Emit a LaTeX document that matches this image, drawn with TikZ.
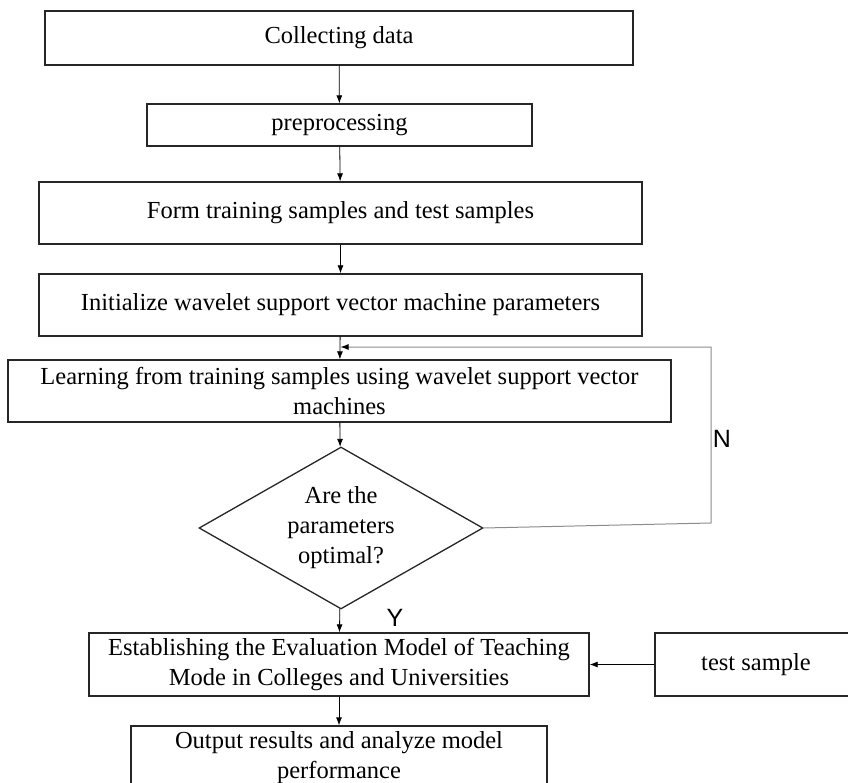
\documentclass[tikz,border=0pt]{standalone}
\usepackage{fontspec}
\setmainfont{Liberation Serif}
\newfontfamily\yesnofont{Liberation Sans}
\usetikzlibrary{shapes.geometric,arrows.meta,positioning}
\tikzstyle{flow}=[
  x=1pt,y=-1pt,>={Latex[length=8pt,width=6pt]},font=\fontsize{24.5}{30}\selectfont
]
\tikzstyle{procbox}=[
  draw=black!85,line width=1.3pt,inner sep=0pt,align=center
]
\tikzstyle{decision}=[
  draw=black!85,line width=1.3pt,diamond,aspect=1.75,inner sep=0pt,
  minimum width=284pt,minimum height=162pt,align=center
]
\tikzstyle{link}=[
  ->,line width=0.8pt
]
\tikzstyle{backlink}=[
  -{Latex[length=8pt,width=6pt,black]},line width=1pt,draw=black!45
]
\tikzstyle{yn}=[
  font=\yesnofont\fontsize{25}{25}\selectfont
]

\begin{document}
\begin{tikzpicture}[flow]
  \useasboundingbox (0,0) rectangle (848,783);
  % main column
  \node (collect) at (339,38) [procbox,minimum width=588pt,minimum height=54pt] {Collecting data};
  \node (prep) at (339.5,125) [procbox,minimum width=385pt,minimum height=42pt] {preprocessing};
  \node (form) at (340.5,213) [procbox,minimum width=603pt,minimum height=62pt] {Form training samples and test samples};
  \node (init) at (340.5,305) [procbox,minimum width=603pt,minimum height=62pt] {Initialize wavelet support vector machine parameters};
  \node (learn) at (339.5,391) [procbox,minimum width=663pt,minimum height=62pt] {Learning from training samples using wavelet support vector\\machines};
  \node (optimal) at (341,528) [decision] {Are the\\parameters\\optimal?};
  \node (model) at (339,664.5) [procbox,minimum width=500pt,minimum height=63pt] {Establishing the Evaluation Model of Teaching\\Mode in Colleges and Universities};
  \node (test) at (756,664.5) [procbox,minimum width=202pt,minimum height=63pt] {test sample};
  \node (output) at (339,758) [procbox,minimum width=416pt,minimum height=64pt] {Output results and analyze model\\performance};
  % loop back
  \coordinate (fbcorner) at (711,523);
  \coordinate (fbend) at (340.5,347);
  \draw [link] (collect) -- (prep);
  \draw [link] (prep) -- (form);
  \draw [link] (form) -- (init);
  \draw [link] (init) -- (learn);
  \draw [link] (learn) -- (optimal);
  \draw [link] (optimal) -- (model);
  \draw [link] (model) -- (output);
  \draw [link] (test) -- (model);
  \draw [backlink] (optimal.east) -- (fbcorner) |- (fbend);
  \node (no) at (722,439) [yn] {N};
  \node (yes) at (395,618) [yn] {Y};
\end{tikzpicture}
\end{document}
